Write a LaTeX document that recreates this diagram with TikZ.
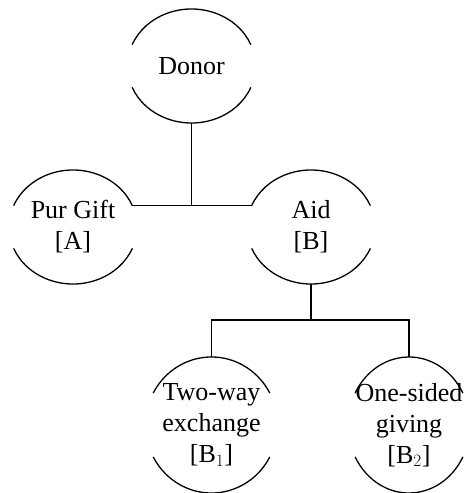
\documentclass[tikz,border=0pt]{standalone}
\usepackage{fontspec}
\setmainfont{Liberation Serif}
% node text with a broken ellipse round it: name, centre, x radius, y radius, gap angle, text
\newcommand{\splitcircle}[6]{%
  \node[align=center,inner sep=0pt] (#1) at (#2) {#6};
  \draw (#1.center) ++(#5:#3 and #4) arc[start angle=#5, end angle=180-#5, x radius=#3, y radius=#4];
  \draw (#1.center) ++(180+#5:#3 and #4) arc[start angle=180+#5, end angle=360-#5, x radius=#3, y radius=#4];
  \path (#1.center) ++(90:#4) coordinate (#1-s);
  \path (#1.center) ++(270:#4) coordinate (#1-n);
  \path (#1.center) ++(-#5:#3 and #4) coordinate (#1-ne);
  \path (#1.center) ++(180+#5:#3 and #4) coordinate (#1-nw);
}
\begin{document}
\begin{tikzpicture}[x=1pt,y=-1pt,line width=1.3pt,font=\fontsize{26}{31}\selectfont]
  \useasboundingbox (0,0) rectangle (466,493);
  \clip (0,0) rectangle (466,493);
  \splitcircle{donor}{191.5,66}{64}{57}{22}{Donor}
  \splitcircle{pur}{73,227}{64}{57}{22}{Pur Gift\\{}[A]}
  \splitcircle{aid}{311,227}{64}{57}{22}{Aid\\{}[B]}
  \splitcircle{two}{211.5,425}{66}{68}{28}{Two-way\\exchange\\{}[B$_1$]}
  \splitcircle{one}{409,425}{61}{68}{28}{One-sided\\giving\\{}[B$_2$]}
  \coordinate (fork) at (311,320);
  \draw (donor-s) -- (donor-s |- pur-ne);
  \draw (pur-ne) -- (aid-nw);
  \draw (aid-s) -- (fork);
  \draw (two-n) -- (two-n |- fork) -- (one-n |- fork) -- (one-n);
\end{tikzpicture}
\end{document}
